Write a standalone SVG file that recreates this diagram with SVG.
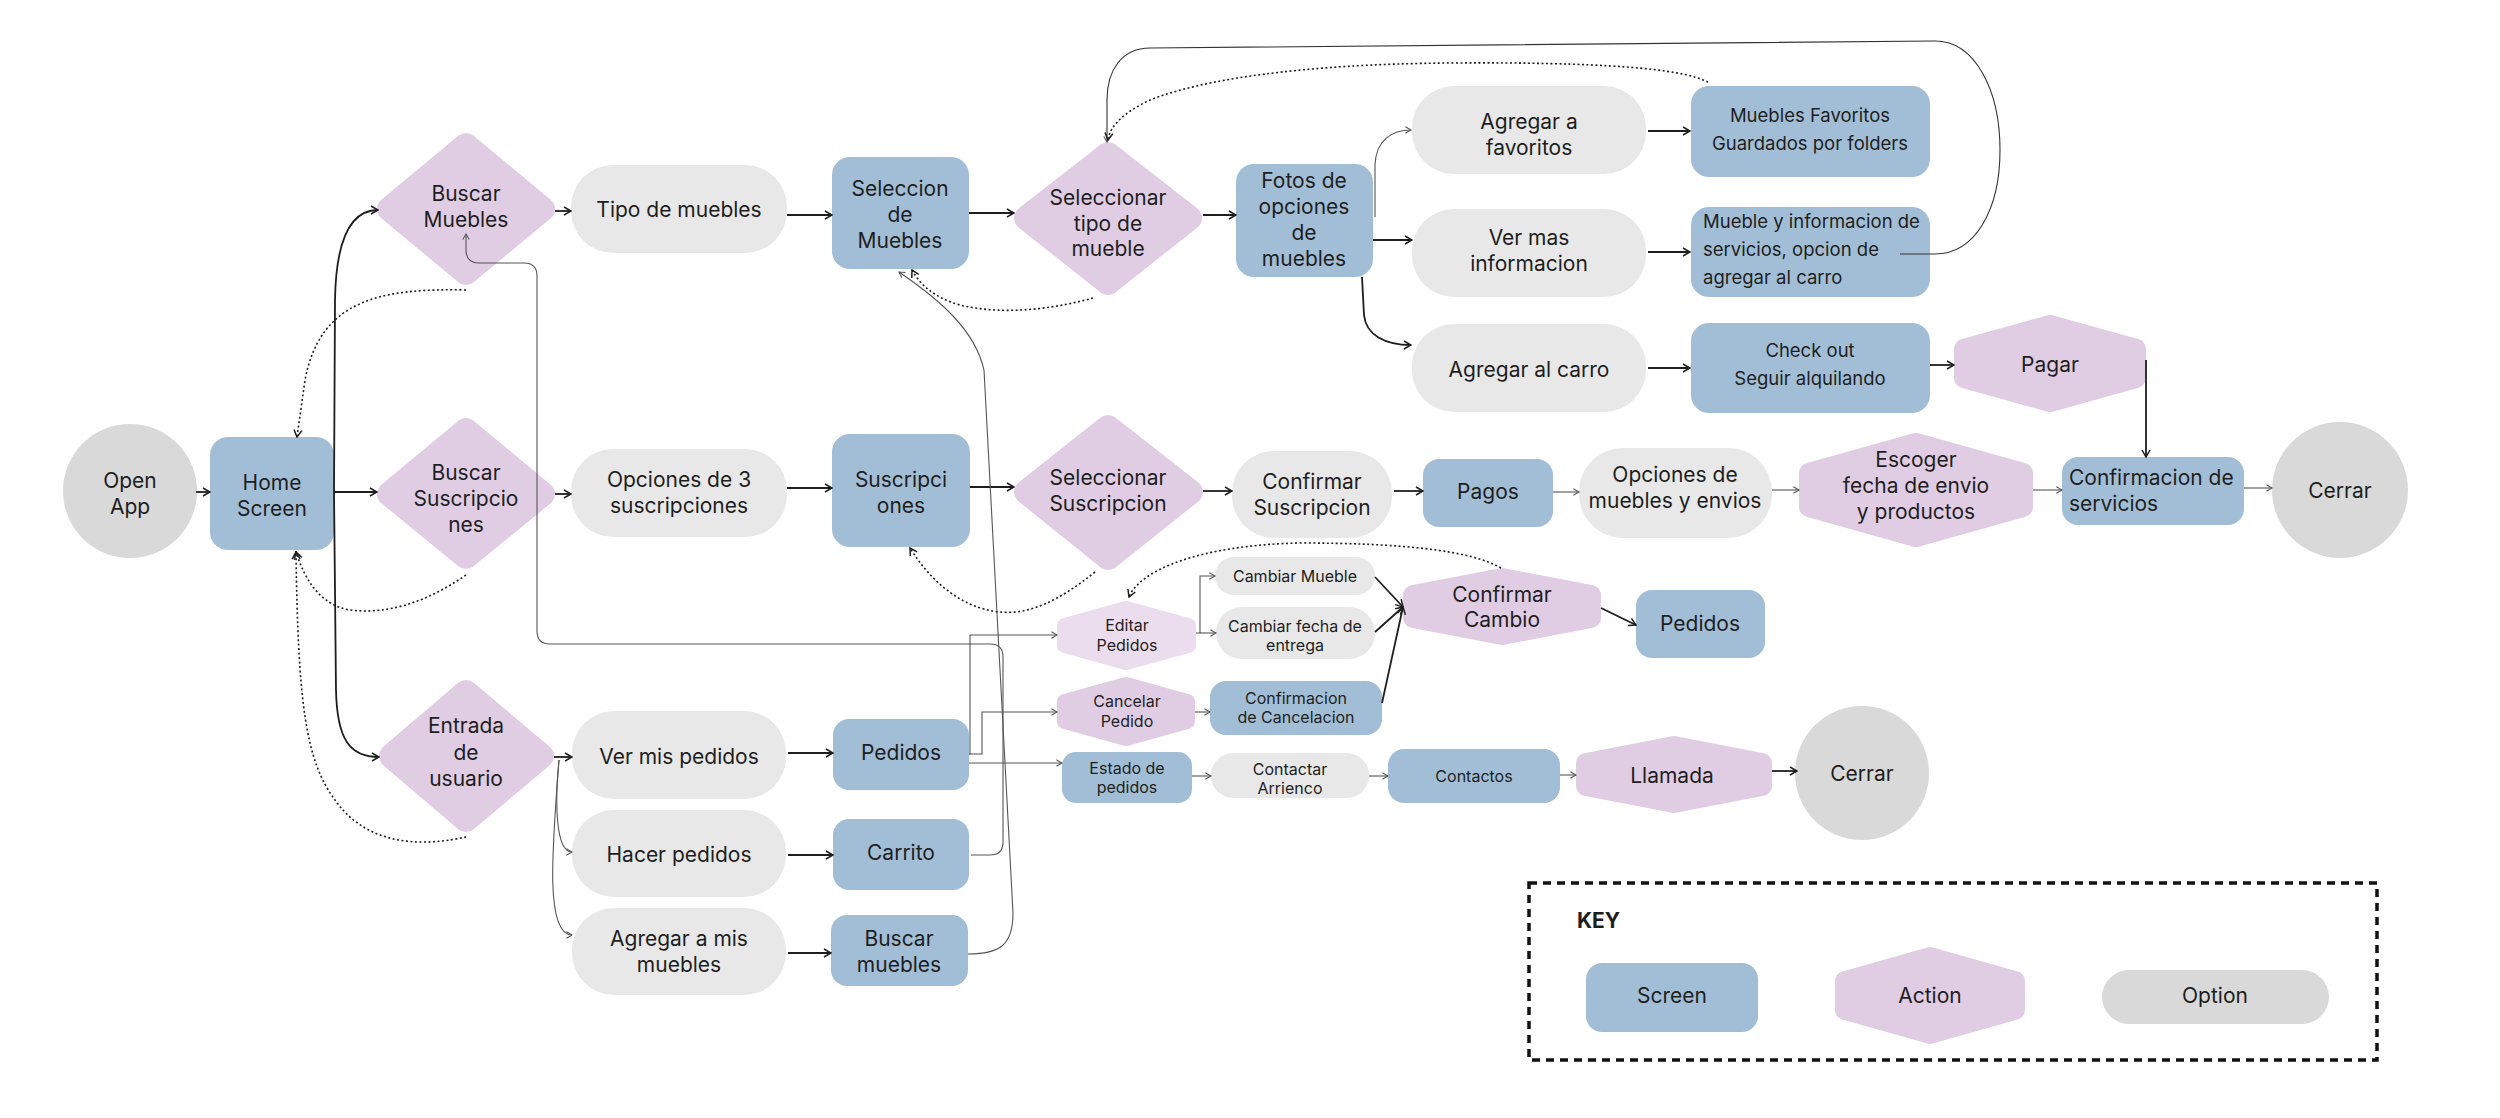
<svg xmlns="http://www.w3.org/2000/svg" width="2500" height="1118" viewBox="0 0 2500 1118">
<style>
text{font-family:Inter,"Liberation Sans",sans-serif;fill:#1E1E1E;text-anchor:middle}
.f21{font-size:21px}.f18{font-size:18.5px}.f16{font-size:16px}
.l{text-anchor:start}
.scr{fill:#A2BED6}
.opt{fill:#E8E8E8}
.cir{fill:#D9D9D9}
.dia{fill:#E0CDE4;stroke:#E0CDE4;stroke-width:24;stroke-linejoin:round}
.hex{fill:#E0CDE4;stroke:#E0CDE4;stroke-width:20;stroke-linejoin:round}
.hexs{fill:#E0CDE4;stroke:#E0CDE4;stroke-width:16;stroke-linejoin:round}
.hexl{fill:#EBDDEE;stroke:#EBDDEE;stroke-width:16;stroke-linejoin:round}
.c{fill:none;stroke:#1E1E1E;stroke-width:1.8;marker-end:url(#ah)}
.g{fill:none;stroke:#555;stroke-width:1.1;marker-end:url(#ahg)}
.d{fill:none;stroke:#1E1E1E;stroke-width:1.6;stroke-dasharray:2 2.5;marker-end:url(#ah)}
</style>
<defs>
<marker id="ah" viewBox="0 0 10 10" refX="9" refY="5" markerWidth="10" markerHeight="10" orient="auto" markerUnits="userSpaceOnUse"><path d="M2 1 L9 5 L2 9" fill="none" stroke="#1E1E1E" stroke-width="1.5"/></marker>
<marker id="ahg" viewBox="0 0 10 10" refX="9" refY="5" markerWidth="8" markerHeight="8" orient="auto" markerUnits="userSpaceOnUse"><path d="M2 1 L9 5 L2 9" fill="none" stroke="#555" stroke-width="1.3"/></marker>
</defs>
<rect width="2500" height="1118" fill="#FFFFFF"/>

<g id="n-open-app"><circle class="cir" cx="130" cy="491" r="67"/><text class="f21"><tspan x="130" y="488">Open</tspan><tspan x="130" y="514">App</tspan></text></g>
<g id="n-home"><rect class="scr" x="210" y="437" width="124" height="113" rx="18"/><text class="f21"><tspan x="272" y="490">Home</tspan><tspan x="272" y="516">Screen</tspan></text></g>
<g id="n-buscar-muebles"><polygon class="dia" points="466,145 543,209 466,273 389,209"/><text class="f21"><tspan x="466" y="201">Buscar</tspan><tspan x="466" y="227">Muebles</tspan></text></g>
<g id="n-buscar-susc"><polygon class="dia" points="466,430 543,494 466,557 389,494"/><text class="f21"><tspan x="466" y="480">Buscar</tspan><tspan x="466" y="506">Suscripcio</tspan><tspan x="466" y="532">nes</tspan></text></g>
<g id="n-entrada"><polygon class="dia" points="466,692 542,756 466,820 391,756"/><text class="f21"><tspan x="466" y="733">Entrada</tspan><tspan x="466" y="760">de</tspan><tspan x="466" y="786">usuario</tspan></text></g>
<g id="n-tipo"><rect class="opt" x="571" y="165" width="216" height="88" rx="42"/><text class="f21" x="679" y="217">Tipo de muebles</text></g>
<g id="n-opciones3"><rect class="opt" x="571" y="449" width="216" height="88" rx="42"/><text class="f21"><tspan x="679" y="487">Opciones de 3</tspan><tspan x="679" y="513">suscripciones</tspan></text></g>
<g id="n-seleccion"><rect class="scr" x="832" y="157" width="137" height="112" rx="18"/><text class="f21"><tspan x="900" y="196">Seleccion</tspan><tspan x="900" y="222">de</tspan><tspan x="900" y="248">Muebles</tspan></text></g>
<g id="n-sel-tipo"><polygon class="dia" points="1108,154 1190,218 1108,283 1026,218"/><text class="f21"><tspan x="1108" y="205">Seleccionar</tspan><tspan x="1108" y="231">tipo de</tspan><tspan x="1108" y="256">mueble</tspan></text></g>
<g id="n-fotos"><rect class="scr" x="1236" y="164" width="137" height="113" rx="18"/><text class="f21"><tspan x="1304" y="188">Fotos de</tspan><tspan x="1304" y="214">opciones</tspan><tspan x="1304" y="240">de</tspan><tspan x="1304" y="266">muebles</tspan></text></g>
<g id="n-agregar-fav"><rect class="opt" x="1412" y="86" width="234" height="88" rx="42"/><text class="f21"><tspan x="1529" y="129">Agregar a</tspan><tspan x="1529" y="155">favoritos</tspan></text></g>
<g id="n-ver-mas"><rect class="opt" x="1412" y="209" width="234" height="88" rx="42"/><text class="f21"><tspan x="1529" y="245">Ver mas</tspan><tspan x="1529" y="271">informacion</tspan></text></g>
<g id="n-agregar-carro"><rect class="opt" x="1412" y="324" width="234" height="88" rx="42"/><text class="f21" x="1529" y="377">Agregar al carro</text></g>
<g id="n-favoritos"><rect class="scr" x="1691" y="86" width="239" height="91" rx="18"/><text class="f18"><tspan x="1810" y="122">Muebles Favoritos</tspan><tspan x="1810" y="150">Guardados por folders</tspan></text></g>
<g id="n-mueble-info"><rect class="scr" x="1691" y="207" width="239" height="90" rx="18"/><text class="f18 l"><tspan x="1703" y="228">Mueble y informacion de</tspan><tspan x="1703" y="256">servicios, opcion de</tspan><tspan x="1703" y="284">agregar al carro</tspan></text></g>
<g id="n-checkout"><rect class="scr" x="1691" y="323" width="239" height="90" rx="18"/><text class="f18"><tspan x="1810" y="357">Check out</tspan><tspan x="1810" y="385">Seguir alquilando</tspan></text></g>
<g id="n-pagar"><polygon class="hex" points="1964,349 2050,325 2136,349 2136,378 2050,402 1964,378"/><text class="f21" x="2050" y="372">Pagar</text></g>
<g id="n-suscripciones"><rect class="scr" x="832" y="434" width="138" height="113" rx="18"/><text class="f21"><tspan x="901" y="487">Suscripci</tspan><tspan x="901" y="513">ones</tspan></text></g>
<g id="n-sel-susc"><polygon class="dia" points="1108,427 1191,492 1108,558 1026,492"/><text class="f21"><tspan x="1108" y="485">Seleccionar</tspan><tspan x="1108" y="511">Suscripcion</tspan></text></g>
<g id="n-confirmar-susc"><rect class="opt" x="1232" y="451" width="160" height="87" rx="42"/><text class="f21"><tspan x="1312" y="489">Confirmar</tspan><tspan x="1312" y="515">Suscripcion</tspan></text></g>
<g id="n-pagos"><rect class="scr" x="1423" y="459" width="130" height="68" rx="16"/><text class="f21" x="1488" y="499">Pagos</text></g>
<g id="n-opc-muebles"><rect class="opt" x="1579" y="448" width="193" height="90" rx="44"/><text class="f21"><tspan x="1675" y="482">Opciones de</tspan><tspan x="1675" y="508">muebles y envios</tspan></text></g>
<g id="n-escoger"><polygon class="hex" points="1809,473 1916,443 2023,473 2023,507 1916,537 1809,507"/><text class="f21"><tspan x="1916" y="467">Escoger</tspan><tspan x="1916" y="493">fecha de envio</tspan><tspan x="1916" y="519">y productos</tspan></text></g>
<g id="n-conf-servicios"><rect class="scr" x="2062" y="457" width="182" height="68" rx="16"/><text class="f21 l"><tspan x="2069" y="485">Confirmacion de</tspan><tspan x="2069" y="511">servicios</tspan></text></g>
<g id="n-cerrar1"><circle class="cir" cx="2340" cy="490" r="68"/><text class="f21" x="2340" y="498">Cerrar</text></g>
<g id="n-ver-pedidos"><rect class="opt" x="572" y="711" width="214" height="88" rx="42"/><text class="f21" x="679" y="764">Ver mis pedidos</text></g>
<g id="n-hacer-pedidos"><rect class="opt" x="572" y="810" width="214" height="87" rx="42"/><text class="f21" x="679" y="862">Hacer pedidos</text></g>
<g id="n-agregar-mis"><rect class="opt" x="572" y="908" width="214" height="87" rx="42"/><text class="f21"><tspan x="679" y="946">Agregar a mis</tspan><tspan x="679" y="972">muebles</tspan></text></g>
<g id="n-pedidos1"><rect class="scr" x="833" y="719" width="136" height="71" rx="16"/><text class="f21" x="901" y="760">Pedidos</text></g>
<g id="n-carrito"><rect class="scr" x="833" y="819" width="136" height="71" rx="16"/><text class="f21" x="901" y="860">Carrito</text></g>
<g id="n-buscar-muebles2"><rect class="scr" x="831" y="915" width="137" height="71" rx="16"/><text class="f21"><tspan x="899" y="946">Buscar</tspan><tspan x="899" y="972">muebles</tspan></text></g>
<g id="n-editar"><polygon class="hexl" points="1065,626 1126,609 1188,626 1188,645 1126,662 1065,645"/><text class="f16"><tspan x="1127" y="631">Editar</tspan><tspan x="1127" y="651">Pedidos</tspan></text></g>
<g id="n-cancelar"><polygon class="hexs" points="1065,702 1126,685 1187,702 1187,721 1126,738 1065,721"/><text class="f16"><tspan x="1127" y="707">Cancelar</tspan><tspan x="1127" y="727">Pedido</tspan></text></g>
<g id="n-cambiar-mueble"><rect class="opt" x="1215" y="557" width="160" height="38" rx="19"/><text class="f16" x="1295" y="582">Cambiar Mueble</text></g>
<g id="n-cambiar-fecha"><rect class="opt" x="1216" y="607" width="159" height="52" rx="26"/><text class="f16"><tspan x="1295" y="632">Cambiar fecha de</tspan><tspan x="1295" y="651">entrega</tspan></text></g>
<g id="n-conf-cancel"><rect class="scr" x="1210" y="681" width="172" height="54" rx="16"/><text class="f16"><tspan x="1296" y="704">Confirmacion</tspan><tspan x="1296" y="723">de Cancelacion</tspan></text></g>
<g id="n-estado"><rect class="scr" x="1062" y="752" width="130" height="51" rx="14"/><text class="f16"><tspan x="1127" y="774">Estado de</tspan><tspan x="1127" y="793">pedidos</tspan></text></g>
<g id="n-contactar"><rect class="opt" x="1211" y="753" width="158" height="45" rx="22"/><text class="f16"><tspan x="1290" y="775">Contactar</tspan><tspan x="1290" y="794">Arrienco</tspan></text></g>
<g id="n-contactos"><rect class="scr" x="1388" y="749" width="172" height="54" rx="16"/><text class="f16" x="1474" y="782">Contactos</text></g>
<g id="n-confirmar-cambio"><polygon class="hex" points="1413,595 1502,578 1591,595 1591,618 1502,635 1413,618"/><text class="f21"><tspan x="1502" y="602">Confirmar</tspan><tspan x="1502" y="627">Cambio</tspan></text></g>
<g id="n-pedidos2"><rect class="scr" x="1636" y="590" width="129" height="68" rx="16"/><text class="f21" x="1700" y="631">Pedidos</text></g>
<g id="n-llamada"><polygon class="hex" points="1586,763 1674,746 1762,763 1762,786 1674,803 1586,786"/><text class="f21" x="1672" y="783">Llamada</text></g>
<g id="n-cerrar2"><circle class="cir" cx="1862" cy="773" r="67"/><text class="f21" x="1862" y="781">Cerrar</text></g>

<g id="connectors">
<path class="c" d="M196 492 H210"/>
<path class="c" d="M334 492 L335 300 C336 240 350 210 378 210"/>
<path class="c" d="M334 492 H377"/>
<path class="c" d="M334 492 L336 690 C337 740 350 757 379 757"/>
<path class="c" d="M555 211 H571"/>
<path class="c" d="M555 494 H571"/>
<path class="c" d="M787 215 H832"/>
<path class="c" d="M969 213 H1014"/>
<path class="c" d="M1203 215 H1236"/>
<path class="g" d="M1375 217 L1375 165 C1376 140 1392 130 1411 130"/>
<path class="c" d="M1373 240 H1412"/>
<path class="c" d="M1362 277 L1364 315 C1366 335 1385 345 1411 345"/>
<path class="c" d="M1648 131 H1690"/>
<path class="c" d="M1648 252 H1690"/>
<path class="c" d="M1648 368 H1690"/>
<path class="c" d="M1930 365 H1954"/>
<path class="c" d="M2146 360 V457"/>
<path class="g" style="stroke:#333" d="M1900 254 H1935 C1975 254 2000 210 2000 150 C2000 90 1975 41 1935 41 L1150 48 C1122 48 1107 70 1107 100 V142"/>
<path class="c" d="M787 488 H832"/>
<path class="c" d="M970 487 H1014"/>
<path class="c" d="M1203 491 H1232"/>
<path class="c" d="M1394 491 H1423"/>
<path class="g" d="M1553 492 H1579"/>
<path class="g" d="M1772 490 H1799"/>
<path class="g" d="M2033 490 H2062"/>
<path class="g" d="M2244 488 H2272"/>
<path class="c" d="M554 757 H572"/>
<path class="g" d="M559 760 C555 800 555 852 572 852"/>
<path class="g" d="M559 760 C552 850 545 935 572 935"/>
<path class="c" d="M788 753 H833"/>
<path class="c" d="M788 855 H833"/>
<path class="c" d="M788 953 H831"/>
<path class="g" d="M969 754 H970 V635 H1057"/>
<path class="g" d="M969 754 H982 V712 H1057"/>
<path class="g" d="M969 763 H1062"/>
<path class="g" d="M971 855 H990 Q1003 855 1003 842 V657 Q1003 644 990 644 H550 Q537 644 537 631 V276 Q537 263 524 263 H479 Q466 263 466 250 V234"/>
<path class="g" d="M968 954 C1000 954 1013 945 1013 913 L984 370 C975 330 940 300 899 272"/>
<path class="g" d="M1196 633 H1200 V576 H1215"/>
<path class="g" d="M1200 633 H1216"/>
<path class="c" d="M1375 577 L1403 607"/>
<path class="c" d="M1375 632 L1403 607"/>
<path class="c" d="M1382 703 L1403 607"/>
<path class="c" d="M1601 608 L1636 625"/>
<path class="g" d="M1195 712 H1210"/>
<path class="g" d="M1192 776 H1211"/>
<path class="g" d="M1369 776 H1388"/>
<path class="g" d="M1560 775 H1576"/>
<path class="c" d="M1772 771 H1797"/>
<path class="d" d="M466 290 C380 288 320 300 305 380 L297 437"/>
<path class="d" d="M466 575 C430 600 390 615 350 610 C320 605 305 580 296 552"/>
<path class="d" d="M466 837 C430 845 370 850 335 800 C305 760 298 700 296 552"/>
<path class="d" d="M1093 298 C1050 310 1000 315 960 305 C935 298 920 285 912 270"/>
<path class="d" d="M1095 572 C1060 600 1030 615 1000 612 C960 608 930 580 910 548"/>
<path class="d" d="M1708 82 C1680 68 1600 62 1450 63 C1300 64 1200 80 1150 100 C1125 112 1110 125 1108 140"/>
<path class="d" d="M1501 568 C1470 550 1400 543 1300 543 C1200 545 1140 570 1129 597"/>
</g>

<g id="key">
<rect x="1529" y="883" width="848" height="177" fill="none" stroke="#111" stroke-width="3.5" stroke-dasharray="8 6"/>
<text class="f21 l" x="1577" y="928" font-weight="bold">KEY</text>
<g id="key-screen"><rect class="scr" x="1586" y="963" width="172" height="69" rx="16"/><text class="f21" x="1672" y="1003">Screen</text></g>
<g id="key-action"><polygon class="hex" points="1845,981 1930,957 2015,981 2015,1010 1930,1034 1845,1010"/><text class="f21" x="1930" y="1003">Action</text></g>
<g id="key-option"><rect class="cir" x="2102" y="970" width="227" height="54" rx="27"/><text class="f21" x="2215" y="1003">Option</text></g>
</g>
</svg>
